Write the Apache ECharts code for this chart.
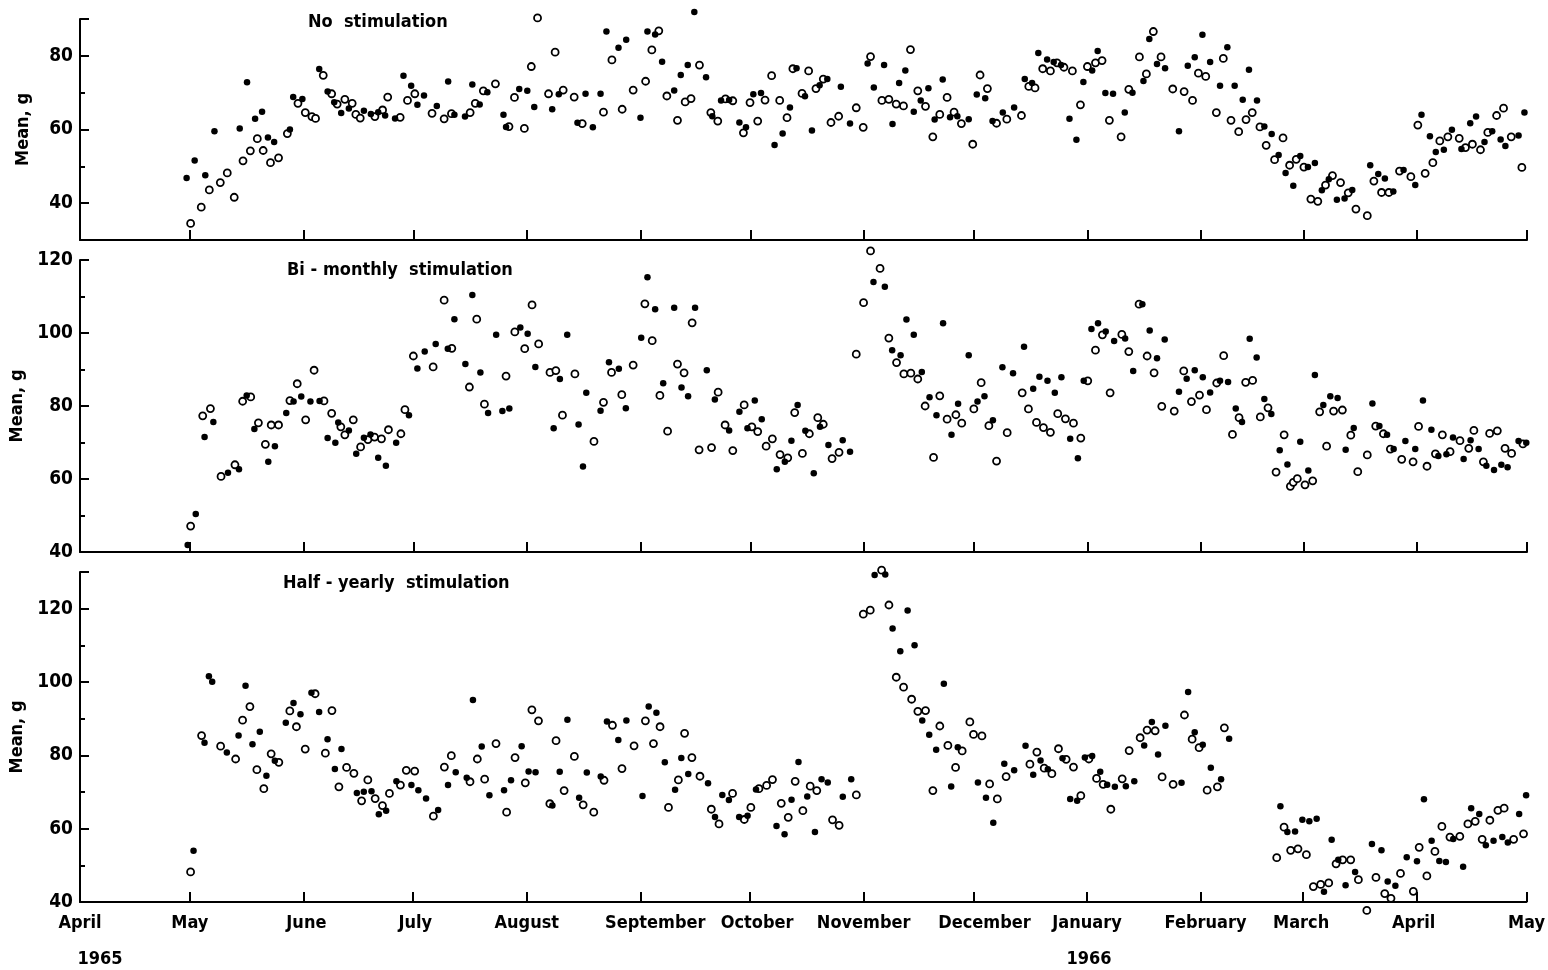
<!DOCTYPE html>
<html>
<head>
<meta charset="utf-8">
<script src="https://cdn.jsdelivr.net/npm/echarts/dist/echarts.min.js"></script>
<style>html,body{margin:0;padding:0;background:#fff;}#chart{width:1548px;height:970px;}</style>
</head>
<body>
<div id="chart"></div>
<script>
// ---------- DATA (x = days after 1 April 1965, y = mean weight, g) ----------
const monthTicks = [0, 30, 61, 91, 122, 153, 183, 214, 244, 275, 306, 334, 365, 395];
const monthNames = ['April', 'May', 'June', 'July', 'August', 'September', 'October', 'November', 'December', 'January', 'February', 'March', 'April', 'May'];
const yearNames = ['1965', '1966'];
const panelTitles = ['No  stimulation', 'Bi - monthly  stimulation', 'Half - yearly  stimulation'];
const yAxisName = 'Mean, g';

const noStimFilled = [[29.1,46.8],[31.3,51.6],[34.2,47.6],[36.7,59.5],[43.6,60.3],[45.6,72.8],[47.8,62.9],[49.7,64.8],[51.3,57.8],[53.0,56.6],[57.3,60.0],[58.2,68.8],[60.7,68.3],[65.3,76.4],[67.6,70.3],[69.4,67.4],[71.3,64.5],[73.4,65.7],[77.5,65.1],[79.4,64.2],[81.4,64.7],[83.3,63.8],[86.0,63.0],[88.3,74.6],[90.4,71.9],[92.1,66.7],[93.9,69.2],[97.4,66.4],[100.5,73.0],[102.2,64.0],[105.1,63.5],[107.1,72.2],[109.1,66.8],[111.2,70.1],[115.6,64.0],[116.3,60.7],[119.9,71.0],[122.1,70.5],[124.0,66.1],[128.9,65.5],[130.7,69.6],[135.8,61.8],[138.0,69.7],[140.0,60.6],[142.1,69.7],[143.7,86.6],[147.0,82.2],[149.1,84.4],[153.0,63.2],[154.9,86.6],[157.0,85.8],[158.9,78.4],[162.2,70.6],[164.0,74.8],[165.9,77.5],[167.7,91.9],[170.9,74.2],[172.6,63.6],[175.0,67.9],[177.2,68.0],[180.0,61.9],[181.8,60.6],[183.8,69.6],[185.9,69.9],[189.6,55.8],[191.8,58.9],[193.8,66.0],[195.6,76.6],[197.9,69.0],[199.8,59.7],[201.9,72.0],[204.0,73.7],[207.7,71.6],[210.2,61.6],[215.0,77.9],[216.7,71.4],[219.5,77.5],[221.8,61.5],[223.6,72.6],[225.3,76.0],[227.6,64.8],[229.5,67.9],[231.6,71.2],[233.3,62.7],[235.5,73.6],[237.5,63.3],[239.5,63.6],[242.6,62.8],[244.8,69.5],[247.1,68.5],[249.1,62.3],[251.9,64.6],[255.0,66.0],[257.9,73.7],[259.9,72.6],[261.6,80.8],[264.0,79.0],[265.8,78.3],[267.8,77.5],[270.1,62.9],[272.0,57.2],[273.9,72.9],[276.3,76.0],[277.8,81.3],[279.9,69.9],[282.0,69.7],[285.2,64.6],[287.3,70.0],[290.3,73.2],[291.9,84.6],[294.0,77.8],[296.2,76.6],[300.0,59.5],[302.4,77.3],[304.3,79.6],[306.4,85.7],[308.5,78.3],[311.2,71.9],[313.2,82.3],[315.2,71.9],[317.4,68.1],[319.1,76.2],[321.3,67.9],[323.3,60.8],[325.3,58.8],[327.2,53.1],[329.1,48.2],[331.2,44.7],[333.1,52.8],[335.2,49.8],[337.1,50.9],[339.0,43.5],[340.9,46.5],[343.1,40.9],[345.2,41.3],[347.3,43.6],[352.2,50.3],[354.4,47.9],[356.2,46.7],[358.5,43.2],[361.3,49.0],[364.5,44.9],[366.2,64.0],[368.5,58.2],[370.1,53.9],[372.3,54.5],[374.5,59.9],[377.1,54.7],[379.5,61.7],[381.1,63.5],[383.4,56.6],[385.5,59.5],[387.8,57.3],[389.1,55.5],[392.7,58.4],[394.3,64.6]];
const noStimOpen = [[30.2,34.5],[33.1,38.9],[35.3,43.6],[38.3,45.6],[40.2,48.2],[42.1,41.6],[44.5,51.5],[46.5,54.2],[48.4,57.5],[50.0,54.3],[52.0,51.0],[54.2,52.3],[56.6,58.9],[59.5,67.1],[61.5,64.6],[63.3,63.5],[64.3,63.0],[66.4,74.7],[68.7,69.7],[70.2,66.9],[72.3,68.2],[74.3,67.1],[75.3,64.1],[76.5,63.1],[80.5,63.5],[82.6,65.3],[84.0,68.8],[87.4,63.3],[89.4,67.9],[91.4,69.7],[96.1,64.4],[99.4,62.9],[101.4,64.3],[106.5,64.6],[107.9,67.1],[110.1,70.5],[113.4,72.4],[117.1,60.8],[118.6,68.7],[121.3,60.3],[123.2,77.1],[124.9,90.3],[127.9,69.7],[129.7,81.0],[131.9,70.7],[134.9,68.8],[137.1,61.6],[142.9,64.7],[145.2,78.9],[148.0,65.5],[151.0,70.7],[154.4,73.1],[156.1,81.6],[158.0,86.8],[160.2,69.1],[163.1,62.5],[165.2,67.5],[166.8,68.4],[169.1,77.5],[172.2,64.6],[174.1,62.3],[176.2,68.3],[178.2,67.8],[181.1,59.1],[182.9,67.3],[185.0,62.3],[187.0,68.0],[188.8,74.6],[191.0,67.9],[193.0,63.2],[194.6,76.5],[197.1,69.8],[198.9,75.9],[200.9,71.1],[202.9,73.7],[205.0,61.9],[207.1,63.6],[211.9,65.9],[213.8,60.6],[215.8,79.8],[218.9,67.9],[220.8,68.2],[222.8,66.9],[224.8,66.4],[226.7,81.7],[228.7,70.5],[230.8,66.3],[232.8,58.0],[234.7,64.1],[236.7,68.7],[238.6,64.7],[240.6,61.6],[243.7,56.0],[245.7,74.8],[247.7,71.1],[250.2,61.7],[253.0,62.8],[257.0,63.8],[259.0,71.7],[260.7,71.3],[262.8,76.5],[264.9,75.9],[266.7,78.1],[268.6,76.9],[270.9,75.9],[273.1,66.7],[275.0,77.1],[277.2,78.1],[279.0,78.7],[281.0,62.5],[284.2,58.0],[286.3,70.9],[289.2,79.7],[291.1,75.1],[293.0,86.6],[295.1,79.7],[298.3,71.0],[301.4,70.3],[303.7,67.9],[305.3,75.3],[307.3,74.4],[310.2,64.6],[312.1,79.3],[314.2,62.5],[316.3,59.4],[318.3,62.7],[320.0,64.6],[322.1,60.7],[323.8,55.7],[326.1,51.8],[328.4,57.7],[330.2,50.3],[332.0,51.9],[334.1,49.8],[336.0,41.1],[337.9,40.5],[340.0,44.9],[341.9,47.5],[344.1,45.6],[346.2,42.8],[348.3,38.4],[351.4,36.6],[353.2,46.0],[355.3,42.9],[357.3,42.9],[360.2,48.7],[363.3,47.2],[365.2,61.2],[367.2,48.1],[369.3,51.0],[371.2,56.9],[373.4,58.0],[376.5,57.6],[378.2,55.1],[380.1,56.0],[382.3,54.5],[384.3,59.2],[386.7,63.8],[388.6,65.8],[390.7,58.0],[393.6,49.7]];

const biMonthlyFilled = [[29.4,41.9],[31.6,50.4],[34.0,71.5],[36.4,75.6],[40.4,61.7],[43.4,62.7],[45.5,82.9],[47.6,73.7],[51.4,64.7],[53.2,69.0],[56.3,78.1],[58.3,81.2],[60.4,82.6],[62.9,81.2],[65.4,81.4],[67.6,71.2],[69.7,69.9],[70.5,75.5],[73.4,73.3],[75.4,66.9],[77.5,71.3],[79.3,72.2],[81.4,65.8],[83.5,63.6],[86.3,69.9],[89.8,77.5],[92.1,90.3],[94.1,94.9],[97.1,97.0],[100.4,95.7],[102.2,103.8],[105.2,91.5],[107.1,110.4],[109.3,89.2],[111.4,78.1],[113.6,99.5],[115.3,78.6],[117.2,79.3],[120.2,101.5],[122.2,99.8],[124.3,90.7],[129.3,73.9],[131.0,87.4],[133.0,99.5],[136.1,74.9],[137.3,63.4],[138.2,83.6],[142.1,78.7],[144.4,92.0],[147.1,90.2],[149.0,79.4],[153.2,98.7],[154.9,115.3],[157.0,106.5],[159.2,86.2],[162.2,106.9],[164.2,85.1],[166.0,82.7],[167.9,106.9],[171.1,89.8],[173.3,81.8],[177.2,73.3],[180.0,78.4],[182.2,73.9],[184.2,81.5],[186.1,76.4],[190.2,62.7],[192.4,64.7],[194.2,70.5],[195.9,80.3],[198.0,73.2],[200.3,61.6],[202.0,74.3],[204.3,69.3],[208.2,70.6],[210.2,67.5],[216.6,114.0],[219.7,112.7],[221.7,95.3],[224.0,93.9],[225.6,103.7],[227.6,99.5],[229.8,89.3],[231.9,82.4],[233.8,77.5],[235.6,102.7],[237.9,72.1],[239.7,80.6],[242.6,93.9],[245.0,81.2],[246.9,82.7],[249.2,76.1],[251.8,90.6],[254.7,89.0],[257.7,96.2],[260.2,84.7],[261.9,88.0],[264.1,86.9],[266.1,83.6],[267.9,87.9],[270.3,71.0],[272.4,65.7],[274.0,86.9],[276.1,101.1],[277.9,102.7],[280.0,100.4],[282.3,97.8],[285.3,98.5],[287.5,89.6],[290.0,107.9],[292.0,100.7],[294.0,93.1],[296.1,98.2],[300.0,83.9],[302.1,87.5],[304.3,89.8],[306.5,87.9],[308.5,83.7],[311.2,86.9],[313.4,86.6],[315.5,79.3],[317.2,75.6],[319.3,98.4],[321.2,93.3],[323.3,81.9],[325.2,77.8],[327.5,67.9],[329.6,64.0],[333.1,70.2],[335.3,62.3],[337.1,88.5],[339.4,80.3],[341.3,82.7],[343.3,82.2],[345.5,68.0],[347.7,74.0],[352.8,80.7],[354.7,74.5],[356.8,72.1],[358.6,68.2],[361.8,70.4],[364.5,68.2],[366.6,81.5],[368.9,73.5],[370.8,66.3],[373.0,66.8],[374.8,71.4],[377.7,65.5],[379.6,70.6],[381.8,68.2],[383.9,63.6],[386.0,62.5],[388.0,63.9],[389.7,63.2],[392.7,70.4],[394.8,69.9]];
const biMonthlyOpen = [[30.2,47.1],[33.5,77.3],[35.6,79.3],[38.5,60.7],[42.3,63.9],[44.4,81.3],[46.6,82.5],[48.7,75.4],[50.6,69.5],[52.2,74.8],[54.2,74.8],[57.3,81.5],[59.3,86.1],[61.6,76.2],[63.9,89.8],[66.6,81.4],[68.7,78.0],[71.2,74.3],[72.3,72.1],[74.6,76.2],[76.6,68.8],[78.6,70.8],[80.4,71.5],[82.3,71.0],[84.2,73.5],[87.6,72.4],[88.7,79.0],[91.0,93.7],[96.4,90.7],[99.4,109.0],[101.5,95.8],[106.3,85.2],[108.3,103.8],[110.4,80.5],[116.3,88.2],[118.7,100.3],[121.4,95.7],[123.4,107.7],[125.2,97.0],[128.3,89.2],[129.9,89.7],[131.7,77.5],[135.1,88.8],[140.3,70.3],[142.9,81.0],[145.1,89.2],[147.9,83.1],[151.0,91.2],[154.2,108.0],[156.2,97.9],[158.3,82.9],[160.4,73.1],[163.1,91.5],[164.9,89.1],[167.1,102.8],[169.0,68.0],[172.4,68.6],[174.2,83.8],[176.1,74.8],[178.2,67.8],[181.3,80.3],[183.4,74.3],[185.0,73.0],[187.3,69.0],[189.0,71.0],[191.1,66.7],[193.2,65.8],[195.1,78.2],[197.2,67.0],[199.1,72.4],[201.4,76.8],[202.9,75.0],[205.3,65.6],[207.2,67.3],[211.9,94.2],[213.9,108.3],[215.8,122.5],[218.4,117.7],[220.8,98.6],[222.9,91.9],[224.9,88.8],[226.8,89.0],[228.7,87.4],[230.7,80.0],[233.0,65.9],[234.7,82.8],[236.7,76.4],[239.1,77.6],[240.7,75.3],[244.0,79.2],[246.0,86.4],[248.1,74.6],[250.2,64.9],[253.1,72.7],[257.2,83.6],[258.9,79.2],[261.1,75.5],[263.0,74.1],[264.9,72.8],[266.9,77.9],[269.0,76.5],[271.2,75.3],[273.2,71.2],[275.1,86.9],[277.2,95.3],[279.1,99.5],[281.2,83.6],[284.4,99.6],[286.3,94.9],[289.1,107.9],[291.3,93.7],[293.2,89.1],[295.3,79.9],[298.7,78.6],[301.3,89.6],[303.4,81.2],[305.6,83.0],[307.5,79.0],[310.3,86.3],[312.2,93.8],[314.6,72.2],[316.4,76.8],[318.2,86.5],[320.1,87.0],[322.2,77.0],[324.3,79.5],[326.5,61.9],[328.7,72.1],[330.4,58.0],[331.2,59.1],[332.3,60.1],[334.4,58.4],[336.5,59.5],[338.4,78.4],[340.3,69.0],[342.2,78.6],[344.6,78.9],[346.9,72.0],[348.8,62.0],[351.4,66.6],[353.7,74.5],[355.8,72.4],[357.7,68.2],[360.8,65.4],[363.9,64.7],[365.4,74.4],[367.7,63.5],[370.0,66.9],[371.9,72.1],[374.0,67.5],[376.7,70.5],[379.1,68.4],[380.5,73.3],[383.1,64.7],[384.8,72.5],[386.9,73.2],[389.0,68.4],[390.8,67.0],[393.9,69.6]];

const halfYearlyFilled = [[31.0,54.0],[34.0,83.4],[35.2,101.6],[36.1,100.1],[40.1,80.8],[43.3,85.4],[45.2,99.0],[47.1,83.0],[49.1,86.4],[50.9,74.4],[53.2,78.5],[56.2,88.9],[58.3,94.3],[60.2,91.2],[63.2,97.1],[65.3,91.8],[67.6,84.4],[69.6,76.3],[71.4,81.7],[75.6,69.7],[77.5,70.1],[79.6,70.2],[81.6,63.9],[83.6,64.9],[86.4,72.9],[90.5,71.9],[92.4,70.5],[94.5,68.2],[97.8,65.1],[100.5,71.9],[102.6,75.4],[105.6,73.9],[107.3,95.1],[109.7,82.4],[111.8,69.1],[115.8,70.5],[117.7,73.2],[120.6,82.5],[122.5,75.6],[124.4,75.4],[129.0,66.3],[131.0,75.5],[133.1,89.7],[136.3,68.4],[138.4,75.3],[142.2,74.2],[143.9,89.2],[147.0,84.2],[149.2,89.5],[153.6,68.9],[155.3,93.3],[157.4,91.6],[159.7,78.1],[162.5,70.6],[164.2,79.3],[166.1,74.9],[171.5,72.4],[173.4,63.2],[175.4,69.2],[177.2,67.8],[180.0,63.2],[182.3,63.5],[184.6,70.7],[190.2,60.7],[192.4,58.5],[194.3,67.9],[196.2,78.2],[198.6,68.8],[200.7,59.1],[202.5,73.5],[204.2,72.6],[208.3,68.7],[210.6,73.5],[217.0,129.2],[219.9,129.3],[221.9,114.6],[224.0,108.4],[226.0,119.5],[227.9,110.0],[230.0,89.5],[231.9,85.6],[233.8,81.5],[235.9,99.5],[237.9,71.5],[239.7,82.2],[245.2,72.6],[247.4,68.4],[249.4,61.6],[252.4,77.7],[255.1,75.9],[258.2,82.6],[260.3,74.7],[262.3,78.6],[264.3,76.2],[268.3,79.2],[270.4,68.1],[272.3,67.6],[274.4,79.4],[276.4,79.8],[278.6,75.5],[280.5,72.0],[282.6,71.4],[285.6,71.6],[287.9,72.9],[290.6,82.7],[292.7,89.1],[294.4,80.2],[296.4,88.1],[300.8,72.5],[302.6,97.3],[304.4,86.3],[306.6,82.9],[308.8,76.6],[311.6,73.5],[313.8,84.5],[327.8,66.1],[329.7,59.1],[331.8,59.2],[333.8,62.4],[335.7,62.0],[337.7,62.7],[339.7,42.8],[341.8,57.0],[343.6,51.5],[345.6,44.6],[348.2,48.2],[352.8,55.8],[355.4,54.1],[357.1,45.6],[359.2,44.4],[362.3,52.2],[365.1,51.1],[367.0,68.0],[369.1,56.7],[371.2,51.2],[373.0,50.9],[375.0,57.2],[377.7,49.6],[379.9,65.6],[382.1,64.0],[383.9,55.5],[386.0,56.7],[388.4,57.7],[389.9,56.2],[393.0,64.0],[394.9,69.1]];
const halfYearlyOpen = [[30.2,48.2],[33.2,85.4],[38.4,82.5],[42.5,79.0],[44.4,89.6],[46.4,93.3],[48.3,76.1],[50.2,70.9],[52.2,80.4],[54.3,78.1],[57.3,92.1],[59.1,87.8],[61.5,81.7],[64.2,96.8],[67.0,80.6],[68.8,92.2],[70.7,71.4],[72.8,76.7],[74.8,75.1],[76.9,67.6],[78.6,73.3],[80.6,68.2],[82.6,66.3],[84.5,69.6],[87.5,71.9],[89.1,75.9],[91.4,75.7],[96.5,63.4],[99.5,76.8],[101.4,79.9],[106.5,72.8],[108.5,79.0],[110.5,73.5],[113.6,83.2],[116.5,64.5],[118.8,79.4],[121.6,72.5],[123.4,92.4],[125.2,89.4],[128.3,66.8],[130.0,84.0],[132.2,70.4],[135.0,79.7],[137.4,66.5],[140.3,64.5],[143.1,73.2],[145.4,88.2],[148.0,76.4],[151.3,82.6],[154.4,89.4],[156.6,83.2],[158.4,87.8],[160.7,65.8],[163.4,73.3],[165.1,86.0],[167.1,79.4],[169.3,74.3],[172.4,65.3],[174.5,61.3],[178.2,69.6],[181.4,62.5],[183.2,65.8],[185.4,70.9],[187.5,71.8],[189.1,73.4],[191.5,66.9],[193.4,63.1],[195.3,72.9],[197.4,64.9],[199.4,71.6],[201.2,70.4],[205.5,62.4],[207.3,60.9],[212.0,69.2],[213.9,118.5],[215.8,119.6],[218.9,130.5],[220.9,121.0],[222.9,101.3],[224.9,98.6],[227.1,95.3],[228.8,92.0],[230.9,92.2],[232.9,70.4],[234.8,88.0],[237.0,82.7],[239.1,76.7],[240.9,81.2],[243.0,89.1],[244.0,85.7],[246.3,85.3],[248.4,72.2],[250.5,68.1],[252.9,74.2],[259.4,77.6],[261.3,80.9],[263.3,76.5],[265.4,75.0],[267.2,81.8],[269.3,78.9],[271.3,76.8],[273.3,69.0],[275.5,79.0],[277.6,73.7],[279.4,72.1],[281.5,65.3],[284.6,73.6],[286.5,81.3],[289.5,84.8],[291.4,86.9],[293.6,86.7],[295.5,74.1],[298.5,72.1],[301.6,91.0],[303.7,84.4],[305.6,82.1],[307.8,70.5],[310.6,71.4],[312.5,87.5],[326.8,52.1],[328.8,60.4],[330.6,54.1],[332.6,54.5],[334.9,52.9],[336.8,44.2],[338.8,44.8],[341.0,45.2],[343.0,50.4],[344.8,51.5],[347.0,51.5],[349.1,46.1],[351.4,37.7],[353.9,46.7],[356.3,42.3],[358.0,41.0],[360.6,47.8],[364.1,42.9],[365.7,54.9],[367.8,47.1],[370.0,53.8],[371.9,60.6],[374.1,57.7],[376.8,57.9],[379.0,61.3],[381.0,62.0],[382.9,57.1],[385.0,62.3],[387.2,65.0],[388.9,65.6],[391.5,57.1],[394.2,58.6]];

// y-axis scales and tick labels per panel
const yRanges = [[30, 90], [40, 120], [40, 130]];
const yTickLabels = [[40, 60, 80], [40, 60, 80, 100, 120], [40, 60, 80, 100, 120]];
const yMajorTicks = [[40, 60, 80, 90], [60, 80, 100, 120], [60, 80, 100, 120, 130]];
const yMinorTicks = [[50, 70], [50, 70, 90, 110], [50, 70, 90, 110]];

// ---------- LAYOUT / STYLE ----------
const F = "'DejaVu Sans Condensed', 'Liberation Sans Narrow', 'DejaVu Sans', sans-serif";
const grids = [
  { left: 80, right: 21, top: 19, height: 221 },
  { left: 80, right: 21, top: 260, height: 292 },
  { left: 80, right: 21, top: 572, height: 330 }
];
const titlePos = [[308, 13], [287, 261], [283, 574]];
const labelShift = [0, 0, 3, 2, 0, 15, 7, 0, 11, 0, 5, -2, -3, 0];

const rich = {};
labelShift.forEach((s, i) => {
  rich['m' + i] = {
    fontSize: 18, fontWeight: 'bold', fontFamily: F, color: '#000', lineHeight: 22,
    padding: s >= 0 ? [0, 0, 0, 2 * s] : [0, -2 * s, 0, 0]
  };
});
rich.y0 = { fontSize: 18, fontWeight: 'bold', fontFamily: F, color: '#000', lineHeight: 50, padding: [0, 0, 0, 40] };
rich.y1 = { fontSize: 18, fontWeight: 'bold', fontFamily: F, color: '#000', lineHeight: 50, padding: [0, 0, 0, 4] };

const xAxes = grids.map((g, i) => ({
  type: 'value', gridIndex: i, min: monthTicks[0], max: monthTicks[monthTicks.length - 1],
  axisLine: { show: true, lineStyle: { color: '#000', width: 2 } },
  axisTick: { show: true, customValues: monthTicks, inside: true, length: 10, lineStyle: { color: '#000', width: 2 } },
  splitLine: { show: false },
  axisLabel: {
    show: i === 2, customValues: monthTicks, margin: 10, rich: rich,
    formatter: function (v) {
      const k = monthTicks.indexOf(v);
      if (k < 0) return '';
      let s = '{m' + k + '|' + monthNames[k] + '}';
      if (k === 0) s += '\n{y0|' + yearNames[0] + '}';
      if (k === 9) s += '\n{y1|' + yearNames[1] + '}';
      return s;
    }
  }
}));

const yAxes = [];
grids.forEach((g, i) => {
  yAxes.push({
    type: 'value', gridIndex: i, min: yRanges[i][0], max: yRanges[i][1], position: 'left',
    name: yAxisName, nameLocation: 'middle', nameRotate: 90, nameGap: 48,
    nameTextStyle: { fontSize: 18, fontWeight: 'bold', fontFamily: F, color: '#000' },
    axisLine: { show: true, lineStyle: { color: '#000', width: 2 } },
    axisTick: { show: true, customValues: yMajorTicks[i], inside: true, length: 9, lineStyle: { color: '#000', width: 2 } },
    axisLabel: { customValues: yTickLabels[i], fontSize: 19, fontWeight: 'bold', fontFamily: F, color: '#000', margin: 7 },
    splitLine: { show: false }
  });
  yAxes.push({
    type: 'value', gridIndex: i, min: yRanges[i][0], max: yRanges[i][1], position: 'left',
    axisLine: { show: false },
    axisTick: { show: true, customValues: yMinorTicks[i], inside: true, length: 5, lineStyle: { color: '#000', width: 2 } },
    axisLabel: { show: false }, splitLine: { show: false }
  });
});

const panels = [[noStimOpen, noStimFilled], [biMonthlyOpen, biMonthlyFilled], [halfYearlyOpen, halfYearlyFilled]];
const series = [];
panels.forEach((p, i) => {
  series.push({
    type: 'scatter', xAxisIndex: i, yAxisIndex: 2 * i, data: p[0], clip: false,
    symbol: 'circle', symbolSize: 7,
    itemStyle: { color: '#fff', borderColor: '#000', borderWidth: 1.8, opacity: 1 }
  });
  series.push({
    type: 'scatter', xAxisIndex: i, yAxisIndex: 2 * i, data: p[1], clip: false,
    symbol: 'circle', symbolSize: 6.5,
    itemStyle: { color: '#000', opacity: 1 }
  });
});

const option = {
  backgroundColor: '#fff',
  animation: false,
  title: panelTitles.map((t, i) => ({
    text: t, left: titlePos[i][0], top: titlePos[i][1], padding: 0,
    textStyle: { fontSize: 18, fontWeight: 'bold', fontFamily: F, color: '#000' }
  })),
  grid: grids,
  xAxis: xAxes,
  yAxis: yAxes,
  series: series
};

const chart = echarts.init(document.getElementById('chart'), null, { renderer: 'canvas' });
chart.setOption(option);
</script>
</body>
</html>
